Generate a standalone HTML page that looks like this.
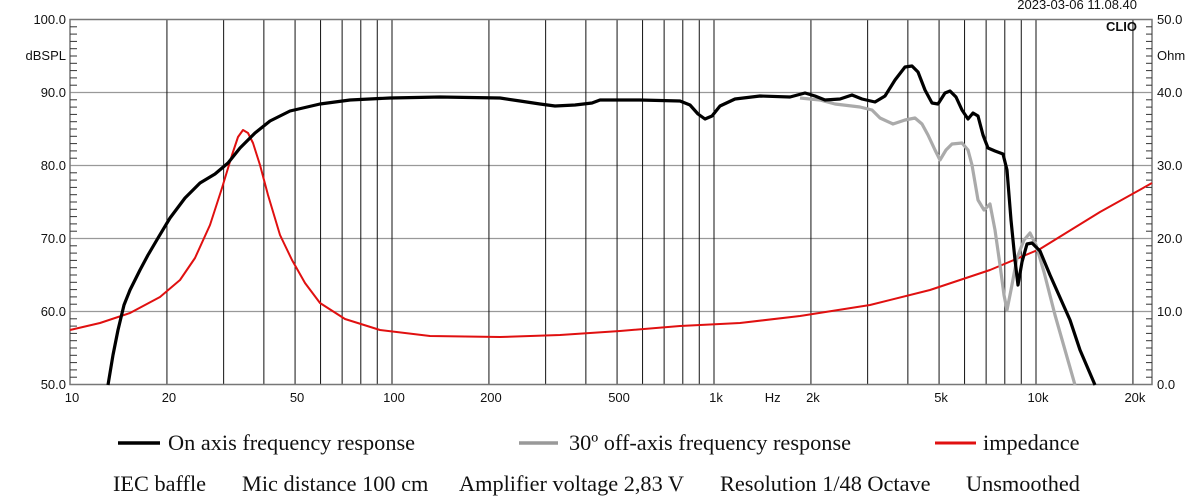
<!DOCTYPE html>
<html><head><meta charset="utf-8"><style>
html,body{margin:0;padding:0;background:#fff;width:1200px;height:497px;overflow:hidden}
svg text{font-family:"Liberation Sans",Arial,sans-serif;font-size:13px;fill:#111}
svg text.s{font-family:"Liberation Serif",serif;font-size:22.3px;fill:#111}
</style></head><body>
<svg width="1200" height="497" viewBox="0 0 1200 497" xmlns="http://www.w3.org/2000/svg">
<g stroke="#999" stroke-width="1.2">
<line x1="70" y1="92.5" x2="1152" y2="92.5"/><line x1="70" y1="165.5" x2="1152" y2="165.5"/>
<line x1="70" y1="238.5" x2="1152" y2="238.5"/><line x1="70" y1="311.5" x2="1152" y2="311.5"/>
</g>
<g stroke="#111" stroke-width="1" id="grid"></g>
<rect x="70" y="19.5" width="1082" height="365" fill="none" stroke="#777" stroke-width="1.5"/>
<g stroke="#333" stroke-width="1" id="ticks"></g>
<g text-anchor="end">
<text x="66" y="24">100.0</text><text x="66" y="60">dBSPL</text><text x="66" y="97">90.0</text>
<text x="66" y="170">80.0</text><text x="66" y="243">70.0</text><text x="66" y="316">60.0</text><text x="66" y="389">50.0</text>
</g>
<g>
<text x="1157" y="24">50.0</text><text x="1157" y="60">Ohm</text><text x="1157" y="97">40.0</text>
<text x="1157" y="170">30.0</text><text x="1157" y="243">20.0</text><text x="1157" y="316">10.0</text><text x="1157" y="389">0.0</text>
</g>
<text x="1137" y="9" text-anchor="end">2023-03-06 11.08.40</text>
<text x="1137" y="31" text-anchor="end" style="font-weight:bold">CLIO</text>
<g text-anchor="middle" id="xl"></g>
<polyline fill="none" stroke="#e01010" stroke-width="2" stroke-linejoin="round" points="70,330 100,323 130,313 160,297 180,280 195,258 210,225 222,188 232,155 238,137 243,130 248,133 253,143 260,165 268,195 280,235 292,260 305,283 320,303 345,319 380,330 430,336 500,337 560,335 620,331 680,326 740,323 800,316 870,305 930,290 990,270 1040,249 1100,212 1152,183"/>
<polyline fill="none" stroke="#aaa" stroke-width="3.2" stroke-linejoin="round" points="800,98 820,100 835,104 860,107 872,110 880,118 893,124 905,120 915,118 922,124 928,135 935,150 940,160 946,150 952,144 962,143 968,150 972,165 978,200 984,210 990,204 995,230 1000,265 1004,295 1007,310 1011,290 1017,258 1024,240 1030,233 1036,245 1044,272 1055,315 1065,350 1075,385"/>
<polyline fill="none" stroke="#000" stroke-width="3.2" stroke-linejoin="round" points="108,385 113,355 118,330 124,305 130,290 140,270 148,255 158,238 170,218 185,198 200,183 215,174 228,163 240,148 255,133 270,121 290,111 320,104 350,100 390,98 440,97 500,98 520,101 540,104 555,106 575,105 592,103 600,100 640,100 680,101 690,105 698,114 705,119 712,116 720,106 735,99 760,96 790,97 805,93 815,96 825,100 840,99 852,95 862,99 875,102 885,96 895,80 905,67 912,66 918,72 925,90 932,103 938,104 945,93 950,91 956,97 962,110 968,119 973,113 978,116 983,135 988,148 995,151 1003,154 1007,170 1011,220 1015,260 1018,285 1022,262 1027,244 1032,243 1040,251 1050,275 1062,302 1070,320 1080,350 1095,385"/>
<line x1="118" y1="443" x2="160" y2="443" stroke="#000" stroke-width="3.5"/>
<text class="s" x="168" y="450">On axis frequency response</text>
<line x1="519" y1="443" x2="558" y2="443" stroke="#999" stroke-width="3.5"/>
<text class="s" x="569" y="450">30º off-axis frequency response</text>
<line x1="935" y1="443" x2="976" y2="443" stroke="#e01010" stroke-width="3"/>
<text class="s" x="983" y="450">impedance</text>
<text class="s" x="113" y="491">IEC baffle</text>
<text class="s" x="242" y="491">Mic distance 100 cm</text>
<text class="s" x="459" y="491">Amplifier voltage 2,83 V</text>
<text class="s" x="720" y="491">Resolution 1/48 Octave</text>
<text class="s" x="966" y="491">Unsmoothed</text>
</svg>
<script>
var ns="http://www.w3.org/2000/svg",g=document.getElementById("grid"),t=document.getElementById("ticks"),xl=document.getElementById("xl");
function X(f){return 70+322*Math.log10(f/10);}
[10,100,1000,10000].forEach(function(d){for(var m=1;m<10;m++){var f=d*m;if(f<=10||f>20000)continue;var x=X(f);var l=document.createElementNS(ns,"line");l.setAttribute("x1",x);l.setAttribute("x2",x);l.setAttribute("y1",19.5);l.setAttribute("y2",384.5);g.appendChild(l);}});
for(var v=0;v<=50;v++){var y=19.5+v*7.3;var l=document.createElementNS(ns,"line");l.setAttribute("x1",70);l.setAttribute("x2",v%10==0?70:77);l.setAttribute("y1",y);l.setAttribute("y2",y);t.appendChild(l);var r=document.createElementNS(ns,"line");r.setAttribute("x1",v%10==0?1152:1146);r.setAttribute("x2",1152);r.setAttribute("y1",y);r.setAttribute("y2",y);t.appendChild(r);}
[[10,"10"],[20,"20"],[50,"50"],[100,"100"],[200,"200"],[500,"500"],[1000,"1k"],[1500,"Hz"],[2000,"2k"],[5000,"5k"],[10000,"10k"],[20000,"20k"]].forEach(function(a){var e=document.createElementNS(ns,"text");e.setAttribute("x",X(a[0])+2);e.setAttribute("y",402);e.textContent=a[1];xl.appendChild(e);});
</script>
</body></html>
